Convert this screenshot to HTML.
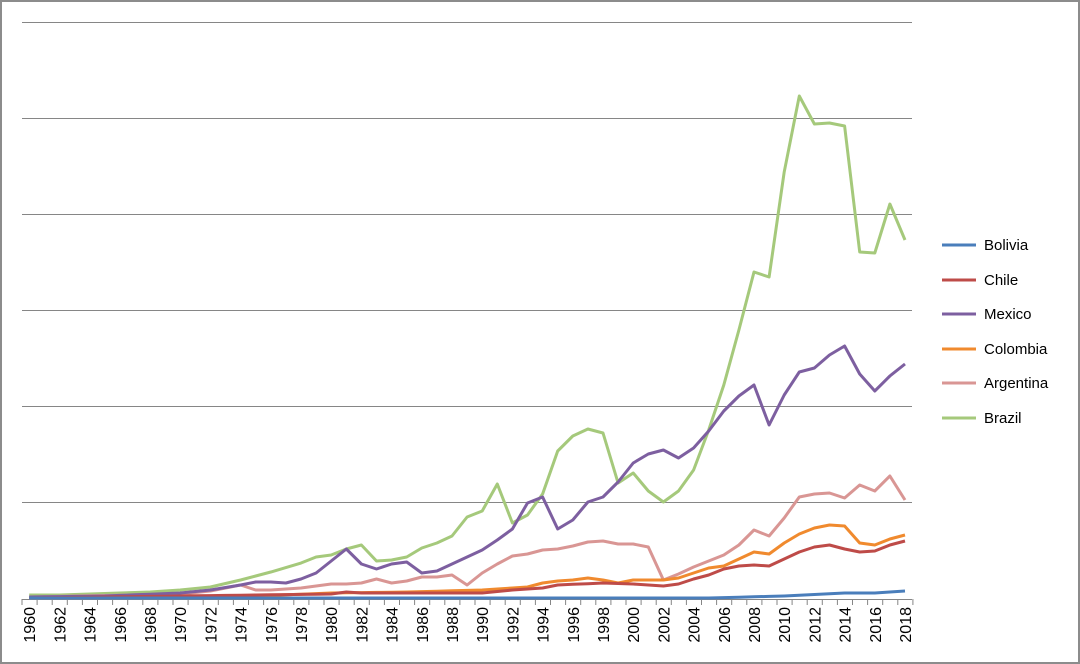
<!DOCTYPE html>
<html><head><meta charset="utf-8"><style>
html,body{margin:0;padding:0;background:#fff}
svg{display:block}
text{font-family:"Liberation Sans",Arial,sans-serif;fill:#000}
</style></head><body>
<svg id="s" width="1080" height="664" xmlns="http://www.w3.org/2000/svg">
<rect x="1" y="1" width="1078" height="662" fill="#fff" stroke="#8c8c8c" stroke-width="2"/>
<g id="grid" stroke="#868686" stroke-width="1"></g>
<g id="ticks"></g>
<g id="series" fill="none" stroke-width="3" stroke-linejoin="round"></g>
<g id="legend"></g>
</svg>
<script>
var NS="http://www.w3.org/2000/svg",s=document.getElementById('s');
function el(p,t,a,txt){var e=document.createElementNS(NS,t);for(var k in a)e.setAttribute(k,a[k]);if(txt)e.textContent=txt;document.getElementById(p).appendChild(e);return e;}
[22,118,214,310,406,502].forEach(function(y){el('grid','line',{x1:22,x2:912,y1:y+.5,y2:y+.5});});
el('grid','line',{x1:22,x2:912,y1:599.5,y2:599.5});
var X=function(i){return 29.2+i*15.1;};
for(var i=0;i<=59;i++){var x=22+i*15.1;el('grid','line',{x1:x,x2:x,y1:599,y2:605});}
for(var i=0;i<59;i+=2){var x=X(i)+6,y=607;el('ticks','text',{x:x,y:y,'font-size':'16','text-anchor':'end',transform:'rotate(-90 '+x+' '+y+')'},String(1960+i));}
function interp(pts){var o=[],k=Object.keys(pts).map(Number).sort(function(a,b){return a-b});for(var y=1960;y<=2018;y++){var v;if(pts[y]!==undefined)v=pts[y];else{var a=k.filter(function(t){return t<y}).pop(),b=k.filter(function(t){return t>y})[0];v=pts[a]+(pts[b]-pts[a])*(y-a)/(b-a);}o.push(X(y-1960).toFixed(1)+','+v.toFixed(1));}return o.join(' ');}
var S=[
["Bolivia","#4a7ebb",{1960:598,2005:598,2010:596,2014:593,2016:593,2018:591}],
["Chile","#be4b48",{1960:598,1980:594,1981:592,1982:593,1990:593,1992:590,1994:588,1995:585,1998:583,2000:584,2002:586,2003:584,2004:579,2005:575,2006:569,2007:566,2008:565,2009:566,2010:559,2011:552,2012:547,2013:545,2014:549,2015:552,2016:551,2017:545,2018:541}],
["Mexico","#7d5fa0",{1960:597,1965:596,1970:593,1972:590,1974:585,1975:582,1976:582,1977:583,1978:579,1979:573,1980:561,1981:549,1982:564,1983:569,1984:564,1985:562,1986:573,1987:571,1988:564,1989:557,1990:550,1991:540,1992:529,1993:503,1994:497,1995:529,1996:520,1997:502,1998:497,1999:482,2000:463,2001:454,2002:450,2003:458,2004:448,2005:431,2006:411,2007:396,2008:385,2009:425,2010:395,2011:372,2012:368,2013:355,2014:346,2015:374,2016:391,2017:376,2018:364}],
["Colombia","#f08a2e",{1960:598,1975:596,1980:593,1985:592,1990:590,1993:587,1994:583,1995:581,1996:580,1997:578,1998:580,1999:583,2000:580,2001:580,2002:580,2003:578,2004:573,2005:568,2006:566,2007:559,2008:552,2009:554,2010:543,2011:534,2012:528,2013:525,2014:526,2015:543,2016:545,2017:539,2018:535}],
["Argentina","#d99694",{1960:597,1970:594,1972:591,1974:585,1975:590,1976:590,1978:588,1980:584,1981:584,1982:583,1983:579,1984:583,1985:581,1986:577,1987:577,1988:575,1989:585,1990:573,1991:564,1992:556,1993:554,1994:550,1995:549,1996:546,1997:542,1998:541,1999:544,2000:544,2001:547,2002:580,2003:574,2004:567,2005:561,2006:555,2007:545,2008:530,2009:536,2010:518,2011:497,2012:494,2013:493,2014:498,2015:485,2016:491,2017:476,2018:500}],
["Brazil","#a5c97b",{1960:595,1962:595,1964:594,1966:593,1968:592,1970:590,1972:587,1974:580,1976:572,1978:563,1979:557,1980:555,1981:549,1982:545,1983:561,1984:560,1985:557,1986:548,1987:543,1988:536,1989:517,1990:511,1991:484,1992:523,1993:515,1994:494,1995:451,1996:436,1997:429,1998:433,1999:483,2000:473,2001:491,2002:502,2003:491,2004:470,2005:430,2006:385,2007:330,2008:272,2009:277,2010:172,2011:96,2012:124,2013:123,2014:126,2015:252,2016:253,2017:204,2018:240}]
];
var order=[5,4,3,2,1,0];
order.forEach(function(i){el('series','polyline',{points:interp(S[i][2]),stroke:S[i][1]});});
var ly=[245,280,314,349,383,418];
S.forEach(function(d,i){el('legend','line',{x1:942,x2:976,y1:ly[i],y2:ly[i],stroke:d[1],'stroke-width':3});el('legend','text',{x:984,y:ly[i]+5,'font-size':'15'},d[0]);});
</script>
</body></html>
